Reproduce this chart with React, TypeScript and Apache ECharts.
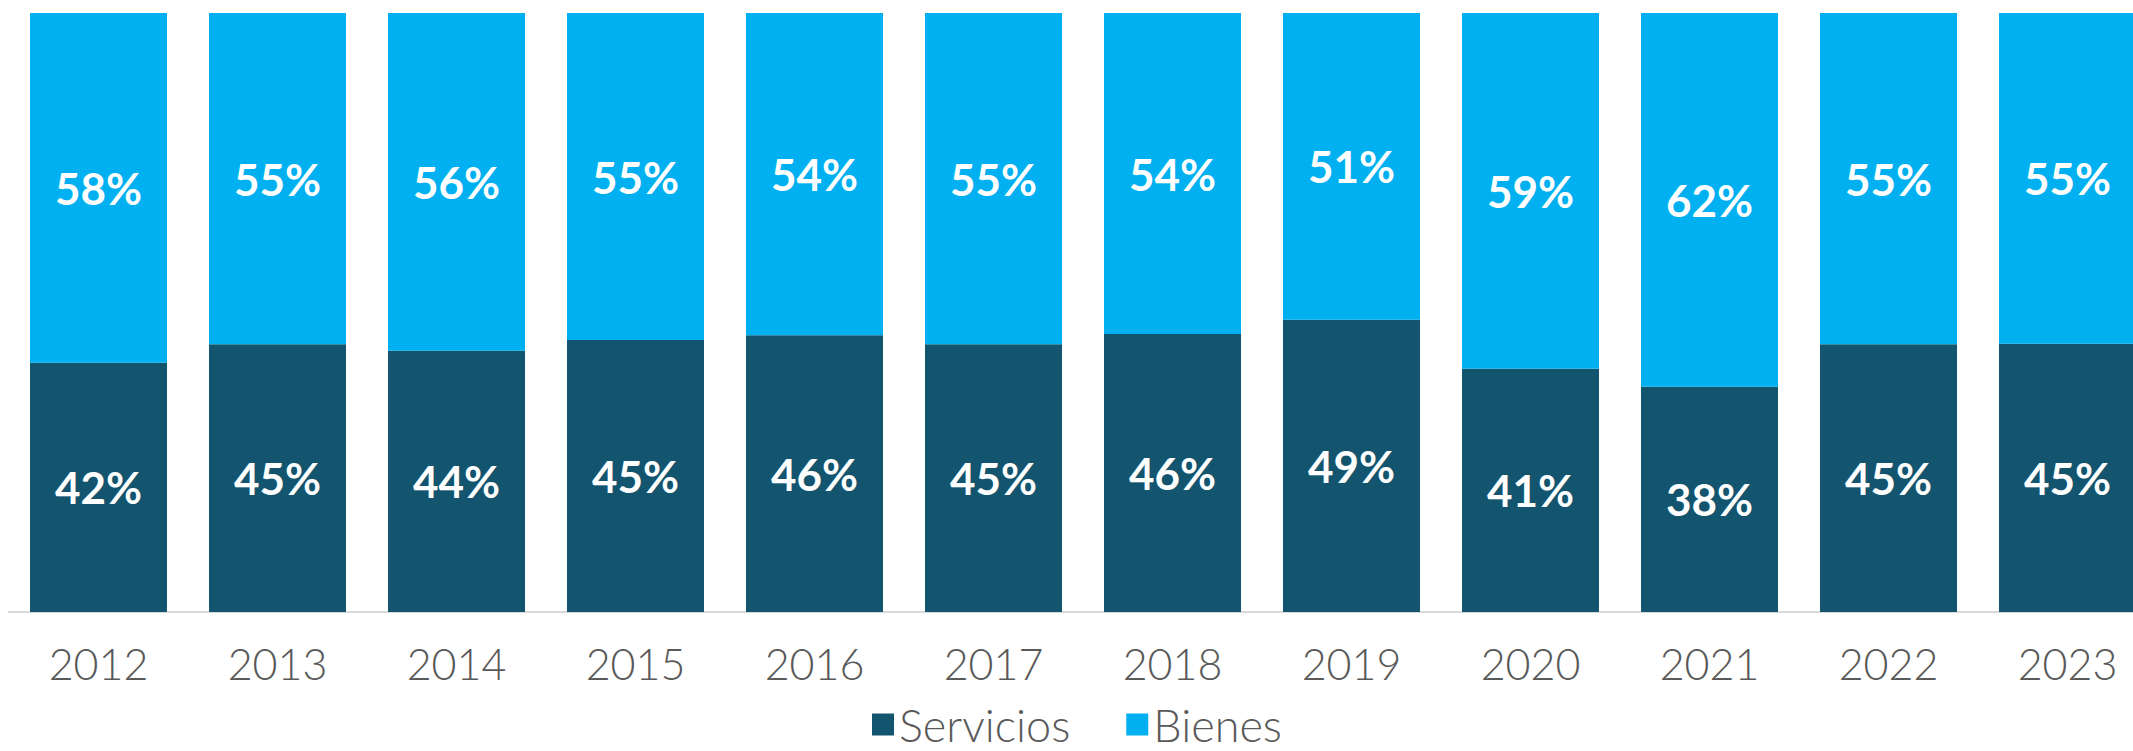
import React, { useEffect, useRef } from "react";
import * as echarts from "echarts";

const years = ["2012", "2013", "2014", "2015", "2016", "2017", "2018", "2019", "2020", "2021", "2022", "2023"];
const servicios = [41.6, 44.7, 43.6, 45.4, 46.2, 44.7, 46.4, 48.8, 40.6, 37.6, 44.7, 44.8];
const bienes = [58.4, 55.3, 56.4, 54.6, 53.8, 55.3, 53.6, 51.2, 59.4, 62.4, 55.3, 55.2];

const DARK = "#13546F";
const LIGHT = "#00B0F0";

export default function App() {
  const ref = useRef<HTMLDivElement>(null);
  useEffect(() => {
    if (!ref.current) return;
    const chart = echarts.init(ref.current, undefined, { renderer: "svg" });
    const label = {
      show: true,
      position: "inside",
      color: "#ffffff",
      fontFamily: "Lato",
      fontWeight: 700,
      fontSize: 44,
      formatter: (p: any) => Math.round(p.value) + "%",
    };
    chart.setOption({
      animation: false,
      backgroundColor: "#ffffff",
      grid: { left: 9, width: 2148, top: 13, height: 599 },
      legend: {
        left: 867,
        top: 697,
        itemWidth: 22,
        itemHeight: 22,
        itemGap: 56,
        icon: "rect",
        textStyle: { fontFamily: "Lato", fontWeight: 300, fontSize: 45, lineHeight: 45, color: "#595959" },
        data: ["Servicios", "Bienes"],
      },
      xAxis: {
        type: "category",
        data: years,
        axisLine: { show: true, lineStyle: { color: "#D9D9D9", width: 2 } },
        axisTick: { show: false },
        axisLabel: { margin: 30, fontFamily: "Lato", fontWeight: 300, fontSize: 43, color: "#595959" },
      },
      yAxis: { type: "value", min: 0, max: 100, show: false, splitLine: { show: false } },
      series: [
        {
          name: "Servicios",
          type: "bar",
          stack: "total",
          data: servicios,
          barWidth: 137,
          itemStyle: { color: DARK },
          label,
        },
        {
          name: "Bienes",
          type: "bar",
          stack: "total",
          data: bienes,
          barWidth: 137,
          itemStyle: { color: LIGHT },
          label,
        },
      ],
    });
    return () => chart.dispose();
  }, []);
  return (
    <div
      style={{
        position: "absolute",
        left: 0,
        top: 0,
        width: 2133,
        height: 751,
        overflow: "hidden",
        background: "#ffffff",
      }}
    >
      <div ref={ref} style={{ width: 2160, height: 751 }} />
    </div>
  );
}
